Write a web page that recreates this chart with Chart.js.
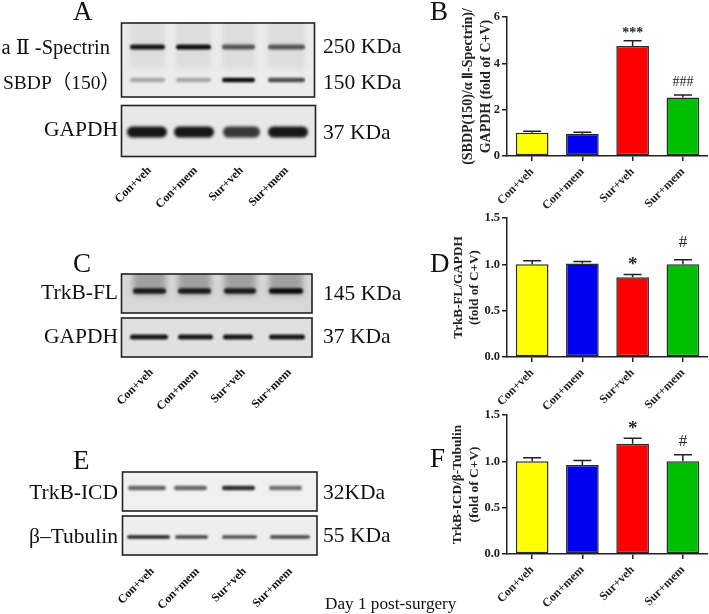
<!DOCTYPE html>
<html>
<head>
<meta charset="utf-8">
<script src="https://cdn.jsdelivr.net/npm/chart.js@4"></script>
<style>
  html, body { margin:0; padding:0; background:#fff; width:709px; height:614px; overflow:hidden; }
  canvas { position:absolute; }
  #blots { left:0; top:0; }
  .plot { filter:blur(.35px); }
  .t { position:absolute; font-family:"Liberation Serif","DejaVu Serif","Noto Sans CJK SC",serif; color:#111; white-space:nowrap; line-height:1; }
  .kda, .prot { font-size:21.5px; transform:translateY(-50%); }
  .kda { left:323px; }
  .prot { right:591px; }
  .letter { font-size:27px; transform:translateY(-50%); }
  .lane { font-size:12px; font-weight:bold; transform-origin:100% 50%; transform:translate(-100%,-50%) rotate(-45deg); }
</style>
</head>
<body>
<canvas id="blots" width="709" height="614"></canvas>
<canvas id="chartB" class="plot" width="248" height="215" style="left:460px;top:0"></canvas>
<canvas id="chartD" class="plot" width="258" height="210" style="left:450px;top:205px"></canvas>
<canvas id="chartF" class="plot" width="259" height="212" style="left:449px;top:402px"></canvas>
<div id="labels"></div>
<script>
// ─── Data ───────────────────────────────────────────────────────────────────
const GROUPS = ['Con+veh', 'Con+mem', 'Sur+veh', 'Sur+mem'];
const BAR_COLORS = ['#ffff00', '#0000f0', '#ff0000', '#00bf00'];

const sbdpValues = [1.0, 0.96, 4.75, 2.52];
const sbdpTops   = [1.07, 1.03, 4.97, 2.63];
const sbdpMarks  = ['', '', '***', '###'];
const sbdpMarkAt = [0, 0, 5.3, 3.16];

const fullValues = [1.0, 1.01, 0.86, 1.0];
const fullTops   = [1.04, 1.03, 0.89, 1.05];
const fullMarks  = ['', '', '*', '#'];
const fullMarkAt = [0, 0, 0.99, 1.24];

const icdValues = [1.0, 0.96, 1.19, 1.0];
const icdTops   = [1.04, 1.01, 1.25, 1.07];
const icdMarks  = ['', '', '*', '#'];
const icdMarkAt = [0, 0, 1.35, 1.21];

// band darkness per lane
const spectrinBands = [.95, 1, .65, .65];
const sbdpBands     = [.3, .3, 1, .7];
const gapdhBandsA   = [.95, .95, .8, .95];
const trkbFlBands   = [.9, .9, .9, 1];
const gapdhBandsC   = [.95, .95, .95, .95];
const trkbIcdBands  = [.6, .6, .85, .55];
const tubulinBands  = [.9, .75, .7, .75];

// ── Error bars and significance marks ────────────────────────────────────────
const errorBars = {
  id: 'errorBars',
  afterDatasetsDraw(chart, args, opts) {
    const { ctx, scales: { x, y } } = chart;
    ctx.save();
    ctx.strokeStyle = '#222';
    ctx.lineWidth = 1.5;
    ctx.fillStyle = '#222';
    ctx.textAlign = 'center';
    ctx.textBaseline = 'middle';
    opts.tops.forEach((top, i) => {
      const cx = x.getPixelForValue(i);
      const y0 = y.getPixelForValue(opts.values[i]);
      const y1 = y.getPixelForValue(top);
      ctx.beginPath();
      ctx.moveTo(cx, y0); ctx.lineTo(cx, y1);
      ctx.moveTo(cx - 9, y1); ctx.lineTo(cx + 9, y1);
      ctx.stroke();
      const m = opts.marks[i];
      if (m) {
        if (m === '*') ctx.font = 'bold 19px "Liberation Serif"';
        else if (m === '#') ctx.font = '17px "Liberation Serif"';
        else ctx.font = (m.includes('*') ? 'bold ' : '') + '14px "Liberation Serif"';
        ctx.fillText(m, cx, y.getPixelForValue(opts.markAt[i]));
      }
    });
    ctx.restore();
  }
};

function barChart(id, title, titleSize, values, tops, marks, markAt, yMax, step, padTop, axisW, xH) {
  return new Chart(document.getElementById(id), {
    type: 'bar',
    data: {
      labels: GROUPS,
      datasets: [{ data: values, backgroundColor: BAR_COLORS, borderColor: '#2a2a2a', borderWidth: 1.5, borderSkipped: false, categoryPercentage: 1, barPercentage: .65 }]
    },
    plugins: [errorBars],
    options: {
      responsive: false,
      animation: false,
      layout: { padding: { top: padTop } },
      plugins: { legend: { display: false }, tooltip: { enabled: false }, errorBars: { values, tops, marks, markAt } },
      scales: {
        x: {
          afterFit: s => { s.height = xH; },
          border: { color: '#222', width: 1.5 },
          grid: { offset: false, drawOnChartArea: false, color: '#222', lineWidth: 1.5, tickLength: 5 },
          ticks: { color: '#222', minRotation: 45, maxRotation: 45, padding: 4, font: { family: 'Liberation Serif', weight: 'bold', size: 12 } }
        },
        y: {
          min: 0, max: yMax,
          afterFit: s => { s.width = axisW; },
          border: { color: '#222', width: 1.5 },
          grid: { drawOnChartArea: false, color: '#222', lineWidth: 1.5, tickLength: 5 },
          ticks: { stepSize: step, color: '#222', padding: 2, font: { family: 'Liberation Serif', weight: 'bold', size: 12.5 },
            callback: v => step < 1 ? v.toFixed(1) : v },
          title: { display: true, text: title, color: '#222', padding: 0, font: { family: 'Liberation Serif', weight: 'bold', size: titleSize, lineHeight: 1.25 } }
        }
      }
    }
  });
}

barChart('chartB', ['(SBDP(150)/α Ⅱ-Spectrin)/', 'GAPDH (fold of C+V)'], 14, sbdpValues, sbdpTops, sbdpMarks, sbdpMarkAt, 6, 2, 17, 47, 59);
barChart('chartD', ['TrkB-FL/GAPDH', '(fold of C+V)'], 13.2, fullValues, fullTops, fullMarks, fullMarkAt, 1.5, .5, 13, 57, 58);
barChart('chartF', ['TrkB-ICD/β-Tubulin', '(fold of C+V)'], 13.4, icdValues, icdTops, icdMarks, icdMarkAt, 1.5, .5, 13, 58, 60);

// ── Blots ────────────────────────────────────────────────────────────────────
const ctx = document.getElementById('blots').getContext('2d');

function blot(x, y, w, h, bg, smear, rows) {
  ctx.save();
  ctx.beginPath(); ctx.rect(x, y, w, h); ctx.clip();
  ctx.fillStyle = bg;
  ctx.fillRect(x, y, w, h);
  rows.forEach(r => {
    r.lanes.forEach((l, i) => {
      if (smear) {
        ctx.filter = 'blur(3px)';
        ctx.fillStyle = `rgba(60,60,60,${smear})`;
        ctx.fillRect(l[0], y - 6, l[1] - l[0], h * .7);
      }
      ctx.filter = `blur(${r.blur}px)`;
      ctx.fillStyle = `rgba(10,10,10,${r.dark[i]})`;
      ctx.beginPath();
      ctx.roundRect(l[0], r.y - r.h / 2, l[1] - l[0], r.h, r.h / 2);
      ctx.fill();
    });
  });
  ctx.restore();
  ctx.strokeStyle = '#222';
  ctx.lineWidth = 1.6;
  ctx.strokeRect(x, y, w, h);
}

const lanesA  = [[130,165],[176,211],[222,255],[268,305]];
const lanesA2 = [[127,167],[174,214],[223,260],[268,308]];
const lanesC  = [[133,166],[178,211],[224,256],[269,303]];
const lanesC2 = [[130,168],[178,213],[223,253],[269,305]];
const lanesE  = [[128,166],[174,207],[222,255],[269,302]];
const lanesE2 = [[127,170],[175,208],[222,257],[270,310]];

blot(121.5, 23, 193, 74, '#ececec', .04, [
  { y: 47, h: 5, blur: .9, lanes: lanesA, dark: spectrinBands },
  { y: 80, h: 4.5, blur: .9, lanes: lanesA, dark: sbdpBands }
]);
blot(121.5, 105.5, 194, 51, '#e8e8e8', 0, [
  { y: 132, h: 11, blur: 1.6, lanes: lanesA2, dark: gapdhBandsA }
]);
blot(121.5, 274, 190.5, 39, '#d8d8d8', .35, [
  { y: 291, h: 5.5, blur: .9, lanes: lanesC, dark: trkbFlBands }
]);
blot(121.5, 318, 190.5, 39, '#e0e0e0', 0, [
  { y: 337, h: 5, blur: .9, lanes: lanesC2, dark: gapdhBandsC }
]);
blot(122.5, 472, 194.5, 39, '#f0f0f0', 0, [
  { y: 488, h: 4.5, blur: 1, lanes: lanesE, dark: trkbIcdBands }
]);
blot(122.5, 516, 194.5, 39, '#eeeeee', 0, [
  { y: 537, h: 3.5, blur: .8, lanes: lanesE2, dark: tubulinBands }
]);

// ── Labels ───────────────────────────────────────────────────────────────────
const labels = document.getElementById('labels');
function label(cls, text, css) {
  const s = document.createElement('span');
  s.className = 't ' + cls;
  s.textContent = text;
  s.style.cssText = css;
  labels.appendChild(s);
}

[['A',73,11],['C',73,263],['E',73,460],['B',430,11],['D',430,263],['F',430,458]].forEach(a =>
  label('letter', a[0], `left:${a[1]}px;top:${a[2]}px`));

label('prot', 'a Ⅱ -Spectrin', 'top:47px;right:599px;font-size:20.5px');
label('prot', 'SBDP（150）', 'top:83px;right:589px;font-size:19.5px');
[['GAPDH',130],['TrkB-FL',293],['GAPDH',337],['TrkB-ICD',493],['β–Tubulin',537]].forEach(p =>
  label('prot', p[0], `top:${p[1]}px`));

[['250 KDa',47],['150 KDa',83],['37 KDa',133],['145 KDa',294],['37 KDa',337],['32KDa',493],['55 KDa',536]].forEach(k =>
  label('kda', k[0], `top:${k[1]}px`));

[[[149,195,241,286],168],[[151,196,243,289],370],[[152,197,244,290],569]].forEach(row =>
  row[0].forEach((x, i) => label('lane', GROUPS[i], `left:${x}px;top:${row[1]}px`)));

label('', 'Day 1 post-surgery', 'left:325px;top:595px;font-size:17.2px');
</script>
</body>
</html>
